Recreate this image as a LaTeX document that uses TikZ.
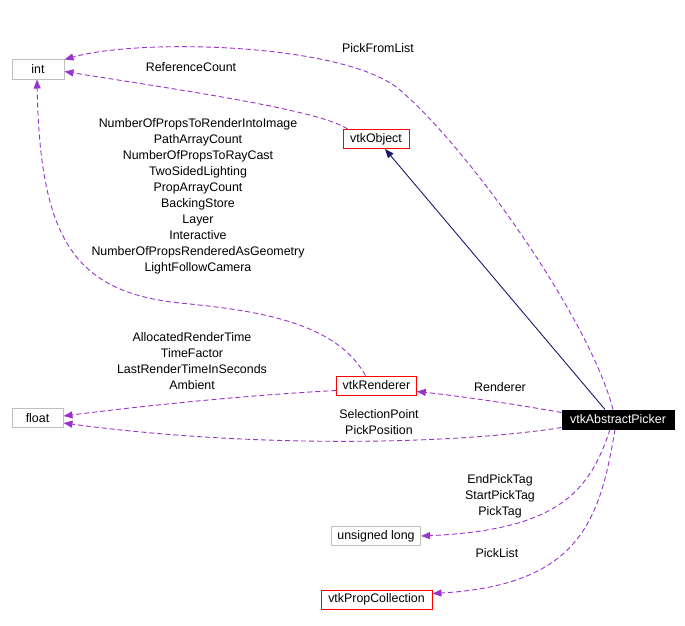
\documentclass[tikz,border=0pt]{standalone}
\usepackage{fontspec}
\setmainfont{Liberation Sans}
\usetikzlibrary{arrows.meta, calc}
\definecolor{edgepurple}{HTML}{9A32CD}
\definecolor{edgenavy}{HTML}{191970}
\definecolor{boxgray}{HTML}{BFBFBF}
\tikzset{
    plain/.style={
        rectangle, draw=boxgray, fill=white,
        minimum height=19pt, inner xsep=6pt, inner ysep=0pt,
        font=\fontsize{12.4pt}{16pt}\selectfont, line width=1pt
    },
    documented/.style={
        plain, draw=red
    },
    focus/.style={
        plain, draw=black, fill=black, text=white
    },
    memberlabel/.style={
        align=center, inner sep=0pt,
        font=\fontsize{12.4pt}{16pt}\selectfont
    },
    member/.style={-{Triangle[length=9pt, width=7pt, fill=edgepurple]}, line width=0.9pt,
        draw=edgepurple, dash pattern=on 5pt off 3pt},
    inherit/.style={-{Triangle[length=9pt, width=7pt, fill=edgenavy]}, line width=0.9pt,
        draw=edgenavy}
}

\begin{document}
\begin{tikzpicture}[x=1pt, y=-1pt]
    \useasboundingbox (0,0) rectangle (685,626);

    % classes
    \node[plain, minimum width=52pt] (int) at (38,69.5) {int};
    \node[plain, minimum width=51pt] (float) at (37.5,418) {float};
    \node[documented, minimum width=66pt] (object) at (376,139) {vtkObject};
    \node[documented, minimum width=79pt] (renderer) at (376.5,385.5) {vtkRenderer};
    \node[focus, minimum width=112pt] (picker) at (618,419.5) {vtkAbstractPicker};
    \node[plain, minimum width=88pt] (ulong) at (376,536) {unsigned long};
    \node[documented, minimum width=111pt] (props) at (376.5,599.5) {vtkPropCollection};

    % member labels
    \node[memberlabel] (lpickfrom) at (378,48) {PickFromList};
    \node[memberlabel] (lrefcount) at (191,67) {ReferenceCount};
    \node[memberlabel] (lrenint) at (198,196) {NumberOfPropsToRenderIntoImage\\PathArrayCount\\NumberOfPropsToRayCast\\TwoSidedLighting\\PropArrayCount\\BackingStore\\Layer\\Interactive\\NumberOfPropsRenderedAsGeometry\\LightFollowCamera};
    \node[memberlabel] (lrenfloat) at (192,361) {AllocatedRenderTime\\TimeFactor\\LastRenderTimeInSeconds\\Ambient};
    \node[memberlabel] (lrenderer) at (500,387) {Renderer};
    \node[memberlabel] (lpickfloat) at (379,422) {SelectionPoint\\PickPosition};
    \node[memberlabel] (ltags) at (500,496) {EndPickTag\\StartPickTag\\PickTag};
    \node[memberlabel] (lpicklist) at (497,553) {PickList};

    % connectors
    \draw[inherit] ([xshift=-13pt]picker.north) -- ([xshift=9pt]object.south);
    \draw[member] ([xshift=-5pt]picker.north) .. controls (590,320) and (470,150) .. (400,90)
        .. controls (345,43) and (140,38) .. (int.north east);
    \draw[member] ([xshift=5pt]object.north west) .. controls (320,110) and (180,90) .. ([yshift=-2pt]int.east);
    \draw[member] ([xshift=-11pt]renderer.north) .. controls (335,320) and (250,310) .. (180,303)
        .. controls (75,292) and (40,240) .. ([xshift=-1pt]int.south);
    \draw[member] ([yshift=-5pt]renderer.west) .. controls (250,395) and (150,405) .. ([yshift=2pt]float.east);
    \draw[member] ([yshift=7pt]picker.west) .. controls (520,405) and (460,396) .. ([yshift=-6pt]renderer.east);
    \draw[member] ([yshift=-8pt]picker.west) .. controls (450,445) and (250,448) .. ([yshift=-5pt]float.east);
    \draw[member] ([xshift=-8pt]picker.south) .. controls (590,490) and (560,530) .. (ulong.east);
    \draw[member] ([xshift=-3pt]picker.south) .. controls (600,520) and (580,585) .. ([yshift=6pt]props.east);
\end{tikzpicture}
\end{document}
